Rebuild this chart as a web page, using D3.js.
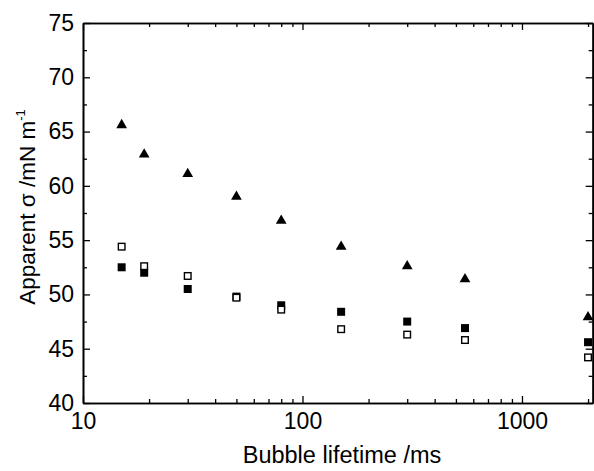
<!DOCTYPE html>
<html>
<head>
<meta charset="utf-8">
<script src="https://cdn.jsdelivr.net/npm/d3@7"></script>
<style>
  body { margin: 0; background: #fff; }
  svg { display: block; }
  text { font-family: Arial, "Liberation Sans", sans-serif; fill: #000; }
</style>
</head>
<body>
<div id="chart"></div>
<script>
// bubble lifetimes (ms)
const lifetimes = [15, 19, 30, 50, 80, 150, 300, 550, 2000]
// apparent surface tension, three series
const triangleSeries = [65.6, 62.9, 61.1, 59.0, 56.8, 54.4, 52.6, 51.4, 47.9]
const filledSquareSeries = [52.5, 52.0, 50.5, 49.8, 49.0, 48.4, 47.5, 46.9, 45.6]
const openSquareSeries = [54.4, 52.6, 51.7, 49.7, 48.6, 46.8, 46.3, 45.8, 44.2]

const yTicks = [40, 45, 50, 55, 60, 65, 70, 75]
const yMinorTicks = [42.5, 47.5, 52.5, 57.5, 62.5, 67.5, 72.5]
const xTicks = [10, 100, 1000]
const xMinorTicks = [20, 30, 40, 50, 60, 70, 80, 90, 200, 300, 400, 500, 600, 700, 800, 900, 2000]

const width = 594
const height = 471
const margin = {top: 23, bottom: 68, left: 83, right: 1}

const svg = d3.select('#chart').append('svg')
    .attr('width', width)
    .attr('height', height)

const xScale = d3.scaleLog()
    .domain([10, 2100])
    .range([margin.left, width - margin.right - 0.3])

const yScale = d3.scaleLinear()
    .domain([40, 75])
    .range([height - margin.bottom, margin.top])

const x0 = xScale.range()[0], x1 = xScale.range()[1]
const y0 = yScale.range()[0], y1 = yScale.range()[1]

const majorLen = 7
const minorLen = 4

// bottom axis
const xAxisG = svg.append('g')
    .attr('transform', `translate(0,${y0})`)
    .call(d3.axisBottom(xScale).tickValues(xTicks).tickFormat(d3.format('d'))
        .tickSizeInner(-majorLen).tickSizeOuter(0).tickPadding(10))
xAxisG.append('g')
    .call(d3.axisBottom(xScale).tickValues(xMinorTicks).tickFormat('')
        .tickSizeInner(-minorLen).tickSizeOuter(0))

// top axis
const xTopG = svg.append('g')
    .attr('transform', `translate(0,${y1})`)
    .call(d3.axisTop(xScale).tickValues(xTicks).tickFormat('')
        .tickSizeInner(-majorLen).tickSizeOuter(0))
xTopG.append('g')
    .call(d3.axisTop(xScale).tickValues(xMinorTicks).tickFormat('')
        .tickSizeInner(-minorLen).tickSizeOuter(0))

// left axis
const yAxisG = svg.append('g')
    .attr('transform', `translate(${x0},0)`)
    .call(d3.axisLeft(yScale).tickValues(yTicks)
        .tickSizeInner(-majorLen).tickSizeOuter(0).tickPadding(9))
yAxisG.append('g')
    .call(d3.axisLeft(yScale).tickValues(yMinorTicks).tickFormat('')
        .tickSizeInner(-minorLen).tickSizeOuter(0))

// right axis
const yRightG = svg.append('g')
    .attr('transform', `translate(${x1},0)`)
    .call(d3.axisRight(yScale).tickValues(yTicks).tickFormat('')
        .tickSizeInner(-majorLen).tickSizeOuter(0))
yRightG.append('g')
    .call(d3.axisRight(yScale).tickValues(yMinorTicks).tickFormat('')
        .tickSizeInner(-minorLen).tickSizeOuter(0))

svg.selectAll('.domain')
    .attr('stroke', '#000')
    .attr('stroke-width', 1.6)
svg.selectAll('.tick line')
    .attr('stroke', '#000')
    .attr('stroke-width', 1.3)
svg.selectAll('.tick text')
    .style('font-size', '23px')

// axis labels
svg.append('text')
    .attr('x', 342)
    .attr('y', 463)
    .attr('text-anchor', 'middle')
    .style('font-size', '23.5px')
    .text('Bubble lifetime /ms')

const yLabel = svg.append('text')
    .attr('transform', 'translate(35,207) rotate(-90)')
    .attr('text-anchor', 'middle')
    .style('font-size', '22.5px')
yLabel.append('tspan').text('Apparent ')
yLabel.append('tspan').text('σ')
yLabel.append('tspan').text(' /mN m')
yLabel.append('tspan').attr('dy', -10).style('font-size', '13px').text('-1')

// markers
const sqSize = 8
const filledData = lifetimes.map((t, i) => ({t: t, v: filledSquareSeries[i]}))
const openData = lifetimes.map((t, i) => ({t: t, v: openSquareSeries[i]}))
const triData = lifetimes.map((t, i) => ({t: t, v: triangleSeries[i]}))

svg.append('g').selectAll('rect').data(filledData).join('rect')
    .attr('x', d => xScale(d.t) - sqSize / 2)
    .attr('y', d => yScale(d.v) - sqSize / 2)
    .attr('width', sqSize)
    .attr('height', sqSize)
    .attr('fill', '#000')

svg.append('g').selectAll('rect').data(openData).join('rect')
    .attr('x', d => xScale(d.t) - (sqSize - 1.4) / 2)
    .attr('y', d => yScale(d.v) - (sqSize - 1.4) / 2)
    .attr('width', sqSize - 1.4)
    .attr('height', sqSize - 1.4)
    .attr('fill', '#fff')
    .attr('stroke', '#000')
    .attr('stroke-width', 1.4)

const triangle = d3.symbol().type(d3.symbolTriangle).size(50)
svg.append('g').selectAll('path').data(triData).join('path')
    .attr('transform', d => `translate(${xScale(d.t)},${yScale(d.v)})`)
    .attr('d', triangle)
    .attr('fill', '#000')
</script>
</body>
</html>
